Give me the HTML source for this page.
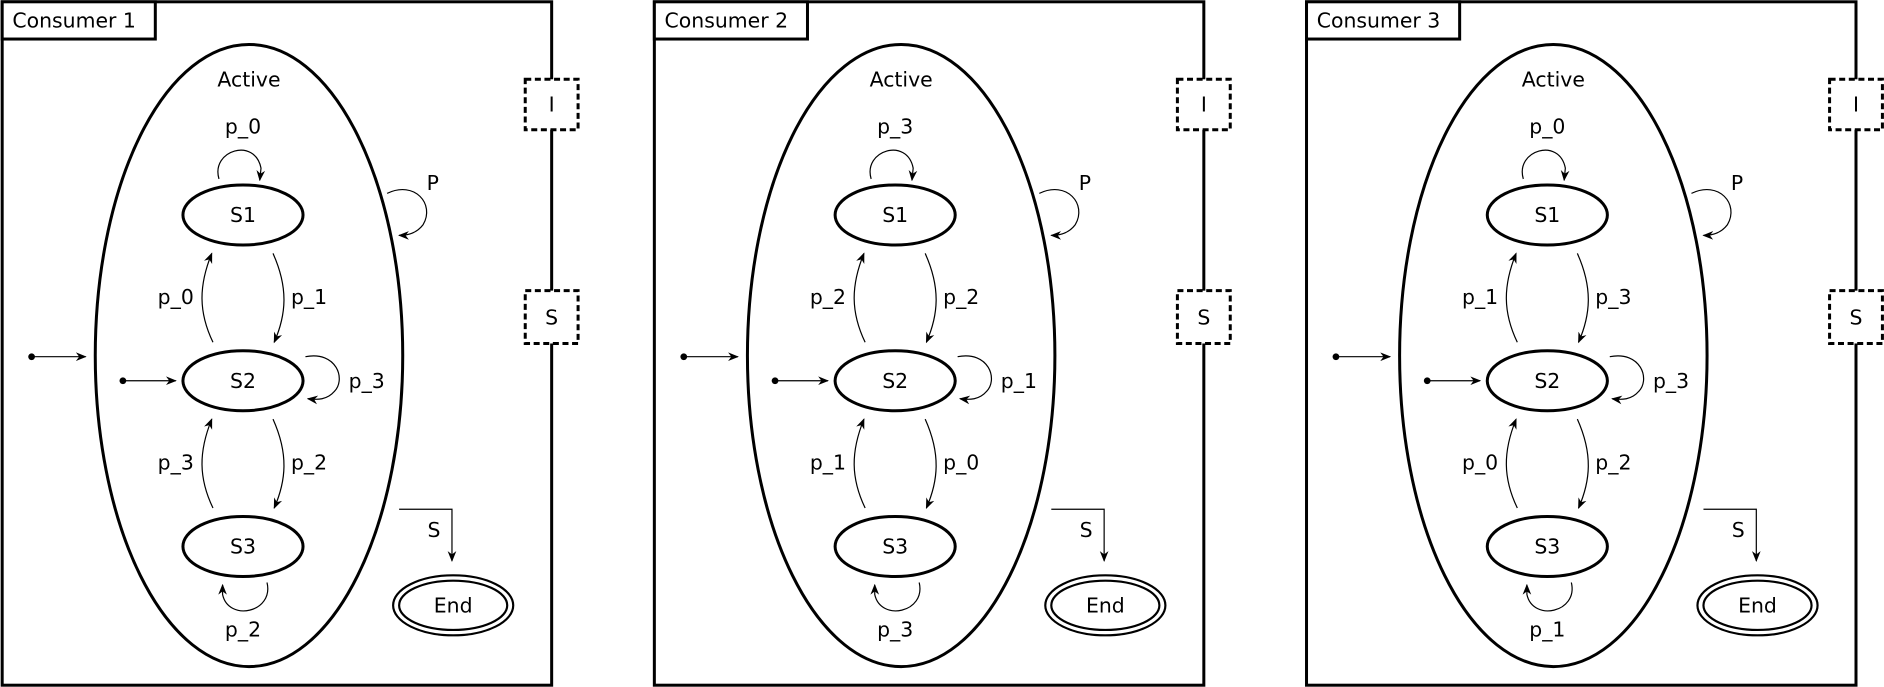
<!DOCTYPE html>
<html><head><meta charset="utf-8"><style>
html,body{margin:0;padding:0;background:#fff;width:1884px;height:687px;overflow:hidden}
svg{display:block}
text{font-family:"DejaVu Sans","Liberation Sans",sans-serif;font-size:17px;fill:#000}
</style></head><body>
<svg width="1884" height="687" viewBox="0 0 1568 572" xmlns="http://www.w3.org/2000/svg">
<defs>
<marker id="a" viewBox="0 0 10 10" refX="9" refY="5" markerWidth="9" markerHeight="9" markerUnits="userSpaceOnUse" orient="auto">
<path d="M0,1 L10,5 L0,9 L3,5 Z" fill="#000"/>
</marker>
<g id="base">
<rect x="1.5" y="1.5" width="457.5" height="569" fill="none" stroke="#000" stroke-width="2.5"/>
<rect x="1.5" y="1.5" width="127.5" height="31" fill="#fff" stroke="#000" stroke-width="2.5"/>
<ellipse cx="207" cy="296" rx="128" ry="259" fill="none" stroke="#000" stroke-width="2.5"/>
<text x="207" y="72" text-anchor="middle">Active</text>
<ellipse cx="202" cy="179" rx="50" ry="25" fill="none" stroke="#000" stroke-width="2.5"/>
<ellipse cx="202" cy="317" rx="50" ry="25" fill="none" stroke="#000" stroke-width="2.5"/>
<ellipse cx="202" cy="455" rx="50" ry="25" fill="none" stroke="#000" stroke-width="2.5"/>
<text x="202" y="185" text-anchor="middle">S1</text>
<text x="202" y="323" text-anchor="middle">S2</text>
<text x="202" y="461" text-anchor="middle">S3</text>
<ellipse cx="377" cy="504" rx="50" ry="25" fill="none" stroke="#000" stroke-width="1.8"/>
<ellipse cx="377" cy="504" rx="45" ry="20.5" fill="none" stroke="#000" stroke-width="1.8"/>
<text x="377" y="510" text-anchor="middle">End</text>
<rect x="437" y="66" width="44" height="42" fill="#fff" stroke="#000" stroke-width="2.5" stroke-dasharray="5,3"/>
<text x="459" y="93" text-anchor="middle">I</text>
<rect x="437" y="242" width="44" height="44" fill="#fff" stroke="#000" stroke-width="2.5" stroke-dasharray="5,3"/>
<text x="459" y="270" text-anchor="middle">S</text>
<circle cx="26" cy="297" r="2.8" fill="#000"/>
<line x1="26" y1="297" x2="71" y2="297" stroke="#000" stroke-width="1" marker-end="url(#a)"/>
<circle cx="102" cy="317" r="2.8" fill="#000"/>
<line x1="102" y1="317" x2="146" y2="317" stroke="#000" stroke-width="1" marker-end="url(#a)"/>
<path d="M322,161 C345,150 362,170 352,187 C346,195 338,196 332,196" fill="none" stroke="#000" stroke-width="1" marker-end="url(#a)"/>
<text x="360" y="158" text-anchor="middle">P</text>
<path d="M332,424 L376,424 L376,467" fill="none" stroke="#000" stroke-width="1" marker-end="url(#a)"/>
<text x="361" y="447" text-anchor="middle">S</text>
<path d="M182,149 C175,125 212,114 217,140 L216,150" fill="none" stroke="#000" stroke-width="1" marker-end="url(#a)"/>
<path d="M254,297 C280,292 288,316 278,326 C272,333 264,333 256,332" fill="none" stroke="#000" stroke-width="1" marker-end="url(#a)"/>
<path d="M222,485 C228,510 190,518 185,495 L185,487" fill="none" stroke="#000" stroke-width="1" marker-end="url(#a)"/>
<path d="M227,211 C240,240 238,262 228,285" fill="none" stroke="#000" stroke-width="1" marker-end="url(#a)"/>
<path d="M177,285 C165,260 165,238 176,211" fill="none" stroke="#000" stroke-width="1" marker-end="url(#a)"/>
<path d="M227,349 C240,378 238,400 228,423" fill="none" stroke="#000" stroke-width="1" marker-end="url(#a)"/>
<path d="M177,423 C165,398 165,376 176,349" fill="none" stroke="#000" stroke-width="1" marker-end="url(#a)"/>
</g>
</defs>

<g>
<use href="#base"/>
<text x="10" y="23">Consumer 1</text>
<text x="202" y="111" text-anchor="middle">p_0</text>
<text x="146" y="253" text-anchor="middle">p_0</text>
<text x="257" y="253" text-anchor="middle">p_1</text>
<text x="305" y="323" text-anchor="middle">p_3</text>
<text x="146" y="391" text-anchor="middle">p_3</text>
<text x="257" y="391" text-anchor="middle">p_2</text>
<text x="202" y="530" text-anchor="middle">p_2</text>
</g>
<g transform="translate(543,0)">
<use href="#base"/>
<text x="10" y="23">Consumer 2</text>
<text x="202" y="111" text-anchor="middle">p_3</text>
<text x="146" y="253" text-anchor="middle">p_2</text>
<text x="257" y="253" text-anchor="middle">p_2</text>
<text x="305" y="323" text-anchor="middle">p_1</text>
<text x="146" y="391" text-anchor="middle">p_1</text>
<text x="257" y="391" text-anchor="middle">p_0</text>
<text x="202" y="530" text-anchor="middle">p_3</text>
</g>
<g transform="translate(1086,0)">
<use href="#base"/>
<text x="10" y="23">Consumer 3</text>
<text x="202" y="111" text-anchor="middle">p_0</text>
<text x="146" y="253" text-anchor="middle">p_1</text>
<text x="257" y="253" text-anchor="middle">p_3</text>
<text x="305" y="323" text-anchor="middle">p_3</text>
<text x="146" y="391" text-anchor="middle">p_0</text>
<text x="257" y="391" text-anchor="middle">p_2</text>
<text x="202" y="530" text-anchor="middle">p_1</text>
</g>
</svg>
</body></html>
